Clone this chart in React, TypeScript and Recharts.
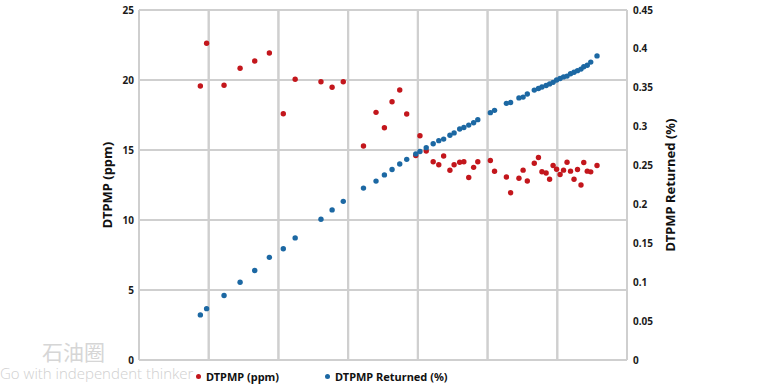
import { ScatterChart, Scatter, XAxis, YAxis, CartesianGrid, ReferenceLine, Legend } from 'recharts';

// sample positions along the (unlabelled) x axis, gridlines at whole numbers
const sampleX = [
  0.88, 0.97, 1.22, 1.45, 1.66, 1.87, 2.07, 2.24, 2.61, 2.77, 2.93, 3.22, 3.4, 3.52,
  3.63, 3.74, 3.84, 3.97, 4.03, 4.12, 4.22, 4.3, 4.37, 4.46, 4.52, 4.6, 4.66, 4.73,
  4.8, 4.86, 5.04, 5.1, 5.27, 5.33, 5.45, 5.51, 5.57, 5.67, 5.73, 5.78, 5.84, 5.89,
  5.94, 5.99, 6.04, 6.09, 6.14, 6.19, 6.24, 6.29, 6.34, 6.38, 6.43, 6.48, 6.57,
];

const ppmValues = [
  19.57, 22.62, 19.62, 20.84, 21.36, 21.93, 17.59, 20.05, 19.88, 19.48, 19.88, 15.29, 17.69, 16.59,
  18.45, 19.29, 17.57, 14.61, 16.02, 14.93, 14.16, 13.95, 14.57, 13.55, 13.95, 14.12, 14.16, 13.04,
  13.76, 14.16, 14.25, 13.48, 13.07, 11.95, 12.98, 13.56, 12.79, 14.05, 14.46, 13.45, 13.36, 12.91,
  13.89, 13.62, 13.25, 13.56, 14.12, 13.49, 12.91, 13.61, 12.5, 14.11, 13.49, 13.44, 13.89,
];

const returnedValues = [
  0.058, 0.066, 0.083, 0.1, 0.115, 0.132, 0.143, 0.157, 0.181, 0.193, 0.204, 0.221, 0.23, 0.238,
  0.245, 0.252, 0.258, 0.265, 0.268, 0.273, 0.278, 0.282, 0.284, 0.289, 0.292, 0.297, 0.299, 0.302,
  0.305, 0.309, 0.318, 0.321, 0.33, 0.331, 0.337, 0.338, 0.342, 0.347, 0.349, 0.351, 0.353, 0.355,
  0.357, 0.36, 0.362, 0.364, 0.365, 0.368, 0.37, 0.372, 0.374, 0.377, 0.379, 0.383, 0.391,
];

const xTicks = [0, 1, 2, 3, 4, 5, 6, 7];
const ppmTicks = [0, 5, 10, 15, 20, 25];
const returnedTicks = [0, 0.05, 0.1, 0.15, 0.2, 0.25, 0.3, 0.35, 0.4, 0.45];

const ppmData = sampleX.map((x, i) => ({ x, y: ppmValues[i] }));
const returnedData = sampleX.map((x, i) => ({ x, y: returnedValues[i] }));

const RED = '#c3161c';
const BLUE = '#1c68a3';
const GRID = '#cfcfcf';
const FONT = '"Noto Sans", Arial, sans-serif';

const tickStyle = { fill: '#1a1a1a', fontSize: 10, fontWeight: 700, fontFamily: FONT };

const Dot = (props: any) => <circle cx={props.cx} cy={props.cy} r={2.7} fill={props.fill} />;

const AxisTitle = ({ viewBox, value, dx }: any) => {
  const x = viewBox.x + dx;
  const y = viewBox.y + viewBox.height / 2;
  return (
    <text
      x={x}
      y={y}
      transform={`rotate(-90 ${x} ${y})`}
      textAnchor="middle"
      dominantBaseline="central"
      fill="#111"
      fontSize={13}
      fontWeight={700}
      fontFamily={FONT}
    >
      {value}
    </text>
  );
};

const LegendContent = ({ payload }: any) => (
  <div style={{ display: 'flex', gap: 46, fontFamily: FONT, fontSize: 11, fontWeight: 700, color: '#111' }}>
    {(payload ?? []).map((entry: any) => (
      <div key={entry.value} style={{ display: 'flex', alignItems: 'center' }}>
        <span style={{ width: 5, height: 5, borderRadius: '50%', background: entry.color, marginRight: 5 }} />
        {entry.value}
      </div>
    ))}
  </div>
);

export default function App() {
  return (
    <div style={{ position: 'absolute', left: 0, top: 0, width: 775, height: 388, background: '#fff' }}>
      <div style={{ position: 'absolute', left: 42, top: 336, fontFamily: '"Noto Sans CJK SC"', fontSize: 21, color: '#d6d6d6' }}>
        石油圈
      </div>
      <div style={{ position: 'absolute', left: 0, top: 363, fontFamily: '"Open Sans", sans-serif', fontWeight: 300, fontSize: 15, color: '#d0d0d0', whiteSpace: 'nowrap' }}>
        Go with independent thinker
      </div>
      <ScatterChart width={775} height={388} margin={{ top: 10, right: 0, bottom: 0, left: 0 }}>
        <CartesianGrid xAxisId="x" yAxisId="left" stroke={GRID} strokeWidth={2} />
        <XAxis
          xAxisId="x"
          type="number"
          dataKey="x"
          domain={[0, 7]}
          ticks={xTicks}
          tickFormatter={() => ''}
          tickLine={false}
          axisLine={{ stroke: GRID, strokeWidth: 2 }}
          height={28}
        />
        <YAxis
          yAxisId="left"
          type="number"
          dataKey="y"
          domain={[0, 25]}
          ticks={ppmTicks}
          tickLine={false}
          tickSize={2}
          tickMargin={3}
          tick={tickStyle}
          axisLine={{ stroke: GRID, strokeWidth: 2 }}
          width={139}
          label={<AxisTitle value="DTPMP (ppm)" dx={107} />}
        />
        <YAxis
          yAxisId="right"
          orientation="right"
          type="number"
          dataKey="y"
          domain={[0, 0.45]}
          ticks={returnedTicks}
          tickLine={false}
          tickSize={2}
          tickMargin={4}
          tick={tickStyle}
          axisLine={{ stroke: GRID, strokeWidth: 2 }}
          width={148}
          label={<AxisTitle value="DTPMP Returned (%)" dx={43} />}
        />
        {ppmTicks.map((t) => (
          <ReferenceLine key={`h${t}`} xAxisId="x" yAxisId="left" y={t} stroke={GRID} strokeWidth={2} />
        ))}
        {xTicks.map((t) => (
          <ReferenceLine key={`v${t}`} xAxisId="x" yAxisId="left" x={t} stroke={GRID} strokeWidth={2} />
        ))}
        <Scatter name="DTPMP (ppm)" data={ppmData} xAxisId="x" yAxisId="left" fill={RED} shape={Dot} isAnimationActive={false} />
        <Scatter name="DTPMP Returned (%)" data={returnedData} xAxisId="x" yAxisId="right" fill={BLUE} shape={Dot} isAnimationActive={false} />
        <Legend
          verticalAlign="middle"
          align="center"
          layout="horizontal"
          content={<LegendContent />}
          wrapperStyle={{ top: 369, left: 196, width: 'auto', height: 'auto' }}
        />
      </ScatterChart>
    </div>
  );
}
